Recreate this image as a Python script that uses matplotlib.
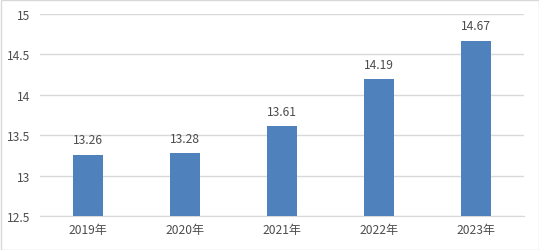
import matplotlib
matplotlib.use('Agg')
import matplotlib.pyplot as plt
import numpy as np

plt.rcParams['font.family'] = ['Noto Sans CJK SC', 'DejaVu Sans']

years = ['2019年', '2020年', '2021年', '2022年', '2023年']
values = [13.26, 13.28, 13.61, 14.19, 14.67]
yticks = [12.5, 13, 13.5, 14, 14.5, 15]
ytick_labels = ['12.5', '13', '13.5', '14', '14.5', '15']

W, H = 539, 251
fig = plt.figure(figsize=(W / 100, H / 100), dpi=100, facecolor='w')
ax = fig.add_axes([40 / W, 1 - 217 / H, 484 / W, 202 / H])

txt = '#4d4d4d'
x = np.arange(len(years))
ax.bar(x, values, width=0.31, color='#4f81bd', bottom=0, zorder=3)
ax.set_xlim(-0.5, len(years) - 0.5)
ax.set_ylim(12.5, 15)
ax.set_yticks(yticks)
ax.set_yticklabels(ytick_labels)
ax.set_xticks(x)
ax.set_xticklabels(years)
ax.grid(axis='y', color='#d9d9d9', linewidth=1, zorder=0)
for s in ['top', 'right', 'left']:
    ax.spines[s].set_visible(False)
ax.spines['bottom'].set_color('#d9d9d9')
ax.tick_params(axis='both', length=0, colors=txt, labelsize=8.7)
ax.tick_params(axis='y', pad=7)
ax.tick_params(axis='x', pad=5)

for xi, v in zip(x, values):
    ax.annotate(f'{v:.2f}', (xi, v), xytext=(0, 6), textcoords='offset points',
                ha='center', va='bottom', fontsize=8.7, color=txt)

fig.patches.append(plt.Rectangle((0.5 / W, 0.5 / H), 1 - 1 / W, 1 - 1 / H,
                                 transform=fig.transFigure, fill=False,
                                 edgecolor='#d9d9d9', linewidth=1))

fig.savefig('out.png', dpi=100)
